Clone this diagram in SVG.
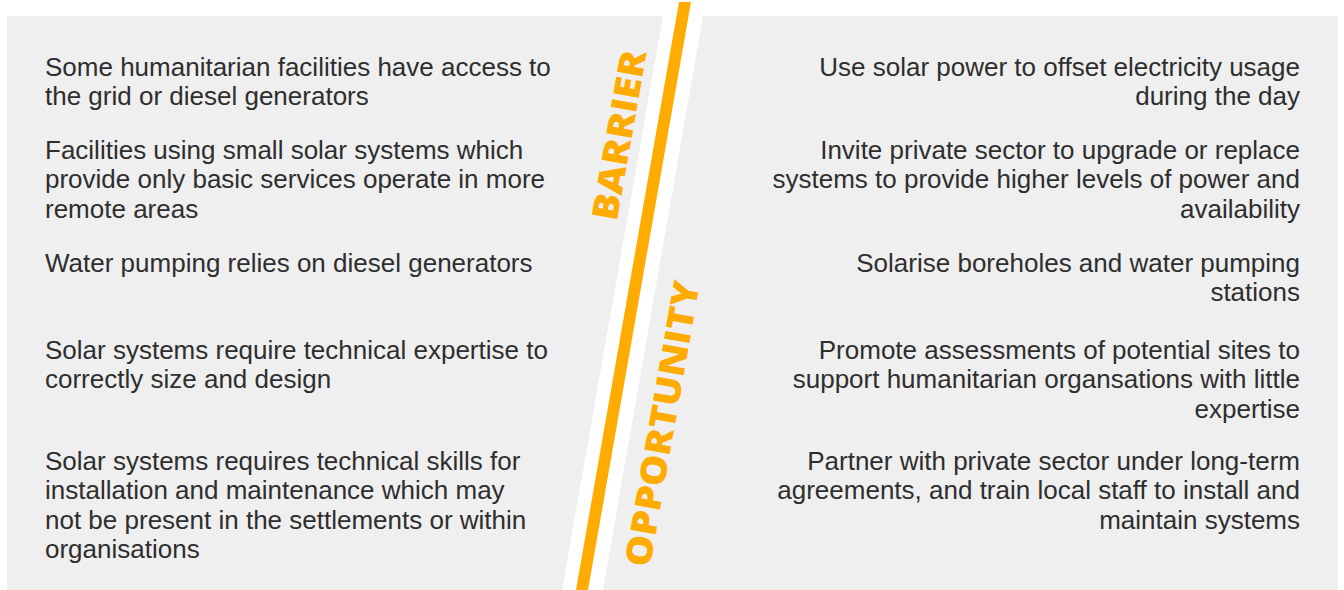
<svg xmlns="http://www.w3.org/2000/svg" width="1344" height="590" viewBox="0 0 1344 590">
<style>
.panel{fill:#efefef}
.stripe{fill:#ffab00}
.t{font-family:"Liberation Sans",Arial,sans-serif;font-size:26px;fill:#2e2e2e}
.r{text-anchor:end}
.lab{font-family:"Open Sans","Liberation Sans",sans-serif;font-size:36px;font-weight:800;fill:#ffab00;text-anchor:middle;dominant-baseline:central}
</style>
<rect width="1344" height="590" fill="#ffffff"/>
<polygon class="panel" points="7,16 663,16 562,590 7,590"/>
<polygon class="panel" points="703,16 1338,16 1338,590 603,590"/>
<polygon class="stripe" points="679,2 691,2 588,590 576,590"/>
<g id="label-barrier"><text class="lab" transform="translate(618.5,135) rotate(-80)" textLength="172" lengthAdjust="spacingAndGlyphs">BARRIER</text></g>
<g id="label-opportunity"><text class="lab" transform="translate(661.5,423.5) rotate(-80)" textLength="289" lengthAdjust="spacingAndGlyphs">OPPORTUNITY</text></g>
<g id="barriers">
<g id="b1"><text class="t" x="45" y="76"><tspan x="45">Some humanitarian facilities have access to</tspan><tspan x="45" dy="29.3">the grid or diesel generators</tspan></text></g>
<g id="b2"><text class="t" x="45" y="159"><tspan x="45">Facilities using small solar systems which</tspan><tspan x="45" dy="29.3">provide only basic services operate in more</tspan><tspan x="45" dy="29.3">remote areas</tspan></text></g>
<g id="b3"><text class="t" x="45" y="272">Water pumping relies on diesel generators</text></g>
<g id="b4"><text class="t" x="45" y="359"><tspan x="45">Solar systems require technical expertise to</tspan><tspan x="45" dy="29.3">correctly size and design</tspan></text></g>
<g id="b5"><text class="t" x="45" y="470"><tspan x="45">Solar systems requires technical skills for</tspan><tspan x="45" dy="29.3">installation and maintenance which may</tspan><tspan x="45" dy="29.3">not be present in the settlements or within</tspan><tspan x="45" dy="29.3">organisations</tspan></text></g>
</g>
<g id="opportunities">
<g id="o1"><text class="t r" x="1300" y="76"><tspan x="1300">Use solar power to offset electricity usage</tspan><tspan x="1300" dy="29.3">during the day</tspan></text></g>
<g id="o2"><text class="t r" x="1300" y="159"><tspan x="1300">Invite private sector to upgrade or replace</tspan><tspan x="1300" dy="29.3">systems to provide higher levels of power and</tspan><tspan x="1300" dy="29.3">availability</tspan></text></g>
<g id="o3"><text class="t r" x="1300" y="272"><tspan x="1300">Solarise boreholes and water pumping</tspan><tspan x="1300" dy="29.3">stations</tspan></text></g>
<g id="o4"><text class="t r" x="1300" y="359"><tspan x="1300">Promote assessments of potential sites to</tspan><tspan x="1300" dy="29.3">support humanitarian organsations with little</tspan><tspan x="1300" dy="29.3">expertise</tspan></text></g>
<g id="o5"><text class="t r" x="1300" y="470"><tspan x="1300">Partner with private sector under long-term</tspan><tspan x="1300" dy="29.3">agreements, and train local staff to install and</tspan><tspan x="1300" dy="29.3">maintain systems</tspan></text></g>
</g>
</svg>
